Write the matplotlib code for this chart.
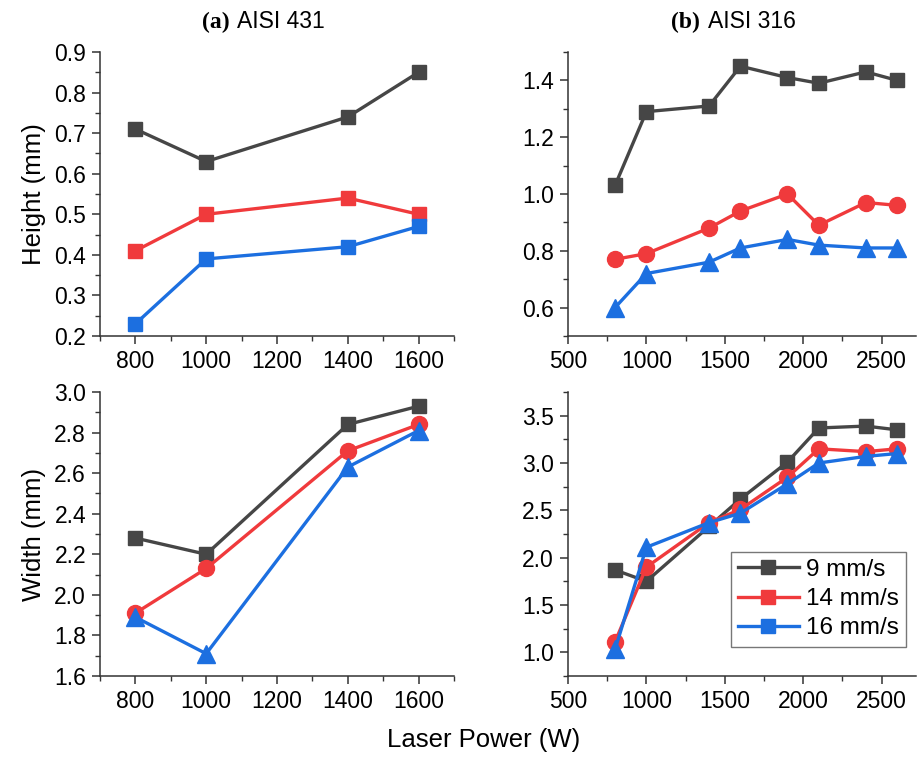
import matplotlib
matplotlib.use("Agg")
import matplotlib.pyplot as plt
from matplotlib.ticker import MultipleLocator, FormatStrFormatter

# ---------------- data ----------------
power_a = [800, 1000, 1400, 1600]
height_a_9 = [0.71, 0.63, 0.74, 0.85]
height_a_14 = [0.41, 0.50, 0.54, 0.50]
height_a_16 = [0.23, 0.39, 0.42, 0.47]
width_a_9 = [2.28, 2.20, 2.84, 2.93]
width_a_14 = [1.91, 2.13, 2.71, 2.84]
width_a_16 = [1.89, 1.71, 2.63, 2.81]

power_b = [800, 1000, 1400, 1600, 1900, 2100, 2400, 2600]
height_b_9 = [1.03, 1.29, 1.31, 1.45, 1.41, 1.39, 1.43, 1.40]
height_b_14 = [0.77, 0.79, 0.88, 0.94, 1.00, 0.89, 0.97, 0.96]
height_b_16 = [0.60, 0.72, 0.76, 0.81, 0.84, 0.82, 0.81, 0.81]
width_b_9 = [1.87, 1.75, 2.33, 2.62, 3.01, 3.37, 3.39, 3.35]
width_b_14 = [1.11, 1.90, 2.37, 2.51, 2.85, 3.15, 3.12, 3.15]
width_b_16 = [1.03, 2.11, 2.37, 2.47, 2.78, 3.00, 3.07, 3.10]

series_labels = ["9 mm/s", "14 mm/s", "16 mm/s"]
titles = [("(a)", "AISI 431"), ("(b)", "AISI 316")]

colors = ["#464646", "#f03a3c", "#1c6fe0"]

plt.rcParams['font.family'] = ['Liberation Sans', 'DejaVu Sans']

fig = plt.figure(figsize=(9.17, 7.57), dpi=100)

L1, R1 = 100 / 917, 454 / 917
L2, R2 = 568 / 917, 916 / 917
T1, B1 = 1 - 52 / 757, 1 - 336 / 757
T2, B2 = 1 - 392 / 757, 1 - 676 / 757

ax_ha = fig.add_axes([L1, B1, R1 - L1, T1 - B1])
ax_hb = fig.add_axes([L2, B1, R2 - L2, T1 - B1])
ax_wa = fig.add_axes([L1, B2, R1 - L1, T2 - B2])
ax_wb = fig.add_axes([L2, B2, R2 - L2, T2 - B2])

lw = 2.4

def style(ax, xlim, xmaj, xmin, ylim, ymaj, ymin):
    ax.set_xlim(*xlim)
    ax.set_ylim(*ylim)
    ax.xaxis.set_major_locator(MultipleLocator(xmaj))
    ax.xaxis.set_minor_locator(MultipleLocator(xmin))
    ax.yaxis.set_major_locator(MultipleLocator(ymaj))
    ax.yaxis.set_minor_locator(MultipleLocator(ymin))
    ax.yaxis.set_major_formatter(FormatStrFormatter('%.1f'))
    for s in ['top', 'right']:
        ax.spines[s].set_visible(False)
    for s in ['left', 'bottom']:
        ax.spines[s].set_color('#333333')
        ax.spines[s].set_linewidth(1.1)
    ax.tick_params(which='major', direction='out', length=6, width=1.1,
                   color='#333333', labelsize=16.5, pad=4)
    ax.tick_params(which='minor', direction='out', length=3.5, width=1.0,
                   color='#333333')
    ax.set_facecolor('none')

# (a) height - squares for all
for y, c in zip([height_a_9, height_a_14, height_a_16], colors):
    ax_ha.plot(power_a, y, color=c, lw=lw, marker='s', ms=10.5, clip_on=False)
style(ax_ha, (700, 1700), 200, 100, (0.2, 0.9), 0.1, 0.05)
ax_ha.set_ylabel("Height (mm)", fontsize=18.5, labelpad=6)

# (a) width
for y, c, m, ms in zip([width_a_9, width_a_14, width_a_16], colors,
                       ['s', 'o', '^'], [10.5, 11.5, 12.5]):
    ax_wa.plot(power_a, y, color=c, lw=lw, marker=m, ms=ms, clip_on=False)
style(ax_wa, (700, 1700), 200, 100, (1.6, 3.0), 0.2, 0.1)
ax_wa.set_ylabel("Width (mm)", fontsize=18.5, labelpad=6)

# (b) height
for y, c, m, ms in zip([height_b_9, height_b_14, height_b_16], colors,
                       ['s', 'o', '^'], [10.5, 11.5, 12.5]):
    ax_hb.plot(power_b, y, color=c, lw=lw, marker=m, ms=ms, clip_on=False)
style(ax_hb, (500, 2720), 500, 250, (0.5, 1.5), 0.2, 0.1)

# (b) width
for y, c, m, ms in zip([width_b_9, width_b_14, width_b_16], colors,
                       ['s', 'o', '^'], [10.5, 11.5, 12.5]):
    ax_wb.plot(power_b, y, color=c, lw=lw, marker=m, ms=ms, clip_on=False)
style(ax_wb, (500, 2720), 500, 250, (0.75, 3.75), 0.5, 0.25)

# legend with square markers
handles = [plt.Line2D([], [], color=c, lw=lw, marker='s', ms=10.5) for c in colors]
leg = ax_wb.legend(handles, series_labels, loc='lower right',
                   bbox_to_anchor=(0.972, 0.103), fontsize=17.5, frameon=True,
                   fancybox=False, edgecolor='#555555', handlelength=2.5,
                   borderpad=0.3, labelspacing=0.3, handletextpad=0.3,
                   borderaxespad=0)
leg.get_frame().set_linewidth(1.0)

# titles: bold serif "(x)" + sans name
for ax, (lab, name), cx in zip([ax_ha, ax_hb], titles, [237 / 917, 708 / 917]):
    fig.text(cx - 0.002, 1 - 22 / 757, lab + " ", ha='right', va='center',
             fontsize=17, fontweight='bold', family='Liberation Serif')
    fig.text(cx, 1 - 22 / 757, name, ha='left', va='center', fontsize=16.5)

fig.text(484 / 917, 1 - 740 / 757, "Laser Power (W)",
         ha='center', va='center', fontsize=18.5)

fig.savefig("out.png", dpi=100)
